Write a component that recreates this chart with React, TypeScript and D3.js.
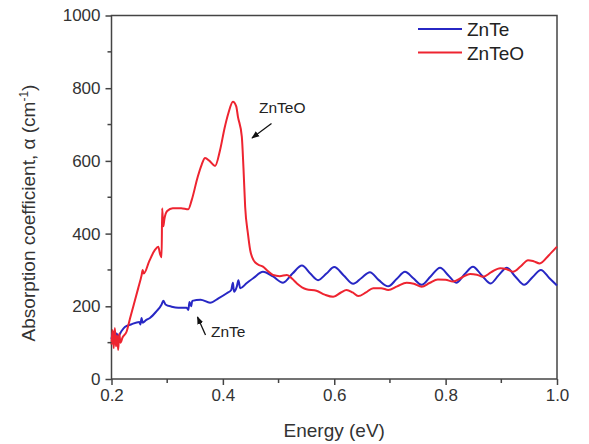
import React, { useRef, useEffect } from 'react';
import * as d3 from 'd3';

// ZnTe absorption (energy eV, alpha cm^-1)
const znteEnergy = [0.200, 0.203, 0.206, 0.209, 0.212, 0.218, 0.224, 0.235, 0.250, 0.252, 0.254, 0.256, 0.262, 0.269, 0.280, 0.290, 0.293, 0.297, 0.308, 0.320, 0.335, 0.338, 0.340, 0.343, 0.345, 0.360, 0.377, 0.392, 0.407, 0.415, 0.418, 0.420, 0.425, 0.428, 0.431, 0.443, 0.455, 0.472, 0.490, 0.508, 0.525, 0.542, 0.557, 0.571, 0.586, 0.600, 0.617, 0.634, 0.649, 0.664, 0.680, 0.697, 0.712, 0.727, 0.742, 0.757, 0.773, 0.790, 0.805, 0.819, 0.834, 0.849, 0.865, 0.881, 0.895, 0.910, 0.925, 0.941, 0.956, 0.971, 0.986, 1.000];
const znteAlpha = [110, 130, 100, 125, 118, 132, 143, 150, 157, 150, 168, 155, 162, 168, 185, 205, 215, 205, 199, 196, 196, 190, 212, 200, 215, 218, 210, 222, 236, 245, 265, 240, 254, 272, 250, 264, 278, 295, 282, 265, 290, 312, 290, 272, 290, 308, 285, 262, 278, 294, 272, 255, 275, 295, 277, 259, 282, 306, 285, 265, 288, 309, 285, 263, 285, 306, 282, 259, 280, 300, 278, 257];

// ZnTeO absorption
const zntoEnergy = [0.200, 0.202, 0.204, 0.206, 0.208, 0.210, 0.212, 0.214, 0.216, 0.220, 0.227, 0.233, 0.239, 0.248, 0.254, 0.256, 0.258, 0.268, 0.278, 0.284, 0.287, 0.290, 0.291, 0.293, 0.295, 0.300, 0.310, 0.325, 0.338, 0.344, 0.355, 0.362, 0.368, 0.376, 0.386, 0.395, 0.403, 0.410, 0.418, 0.424, 0.427, 0.434, 0.437, 0.440, 0.445, 0.449, 0.455, 0.463, 0.472, 0.480, 0.490, 0.502, 0.515, 0.525, 0.533, 0.550, 0.568, 0.583, 0.598, 0.612, 0.622, 0.633, 0.643, 0.657, 0.670, 0.684, 0.697, 0.713, 0.730, 0.743, 0.757, 0.771, 0.786, 0.800, 0.813, 0.830, 0.844, 0.856, 0.867, 0.882, 0.898, 0.910, 0.921, 0.935, 0.948, 0.958, 0.969, 0.985, 1.000];
const zntoAlpha = [95, 135, 85, 140, 90, 120, 80, 125, 100, 115, 130, 165, 199, 250, 285, 300, 290, 325, 355, 364, 345, 335, 470, 420, 440, 462, 470, 470, 467, 492, 557, 590, 608, 600, 586, 630, 690, 732, 763, 750, 722, 667, 580, 474, 400, 355, 327, 315, 309, 298, 286, 283, 286, 275, 263, 247, 243, 232, 226, 238, 245, 238, 228, 238, 250, 250, 245, 255, 265, 262, 254, 264, 274, 273, 268, 280, 289, 287, 281, 294, 305, 302, 295, 310, 327, 324, 318, 340, 364];

const xTicks = [0.2, 0.4, 0.6, 0.8, 1.0];
const xMinor = [0.3, 0.5, 0.7, 0.9];
const yTicks = [0, 200, 400, 600, 800, 1000];
const yMinor = [100, 300, 500, 700, 900];

const seriesNames = ['ZnTe', 'ZnTeO'];
const seriesColors = ['#2727c4', '#ee2430'];

function App() {
  const svgRef = useRef<SVGSVGElement>(null);

  useEffect(() => {
    const svg = d3.select(svgRef.current);
    svg.selectAll('*').remove();

    const width = 589;
    const height = 444;
    const margin = { top: 15.5, right: 32, bottom: 65, left: 111.5 };
    const font = 'Arial, "Liberation Sans", sans-serif';
    const axisColor = '#444';

    const x = d3.scaleLinear().domain([0.2, 1.0]).range([margin.left, width - margin.right]);
    const y = d3.scaleLinear().domain([0, 1000]).range([height - margin.bottom, margin.top]);

    svg.attr('width', width).attr('height', height);

    // frame
    svg.append('rect')
      .attr('x', x(0.2)).attr('y', y(1000))
      .attr('width', x(1.0) - x(0.2)).attr('height', y(0) - y(1000))
      .attr('fill', 'none').attr('stroke', axisColor).attr('stroke-width', 1.5);

    // curves
    const line = d3.line<[number, number]>()
      .x(d => x(d[0])).y(d => y(d[1]))
      .curve(d3.curveMonotoneX);

    const znte = znteEnergy.map((e, i) => [e, znteAlpha[i]] as [number, number]);
    const znto = zntoEnergy.map((e, i) => [e, zntoAlpha[i]] as [number, number]);

    svg.append('path').datum(znte)
      .attr('d', line).attr('fill', 'none')
      .attr('stroke', seriesColors[0]).attr('stroke-width', 2);
    svg.append('path').datum(znto)
      .attr('d', line).attr('fill', 'none')
      .attr('stroke', seriesColors[1]).attr('stroke-width', 2);

    // x axis
    const gx = svg.append('g').attr('transform', `translate(0,${y(0)})`);
    gx.call(d3.axisBottom(x).tickValues(xTicks).tickSize(6).tickFormat(d3.format('.1f')));
    gx.append('g').selectAll('line').data(xMinor).enter().append('line')
      .attr('x1', d => x(d)).attr('x2', d => x(d)).attr('y1', 0).attr('y2', 4);
    gx.select('.domain').remove();
    gx.selectAll('line').attr('stroke', axisColor).attr('stroke-width', 1.5);
    gx.selectAll('text').attr('font-family', font).attr('font-size', 17)
      .attr('fill', '#333').attr('dy', null).attr('y', 22);

    // y axis
    const gy = svg.append('g').attr('transform', `translate(${x(0.2)},0)`);
    gy.call(d3.axisLeft(y).tickValues(yTicks).tickSize(6).tickFormat(d3.format('d')));
    gy.append('g').selectAll('line').data(yMinor).enter().append('line')
      .attr('y1', d => y(d)).attr('y2', d => y(d)).attr('x1', 0).attr('x2', -4);
    gy.select('.domain').remove();
    gy.selectAll('line').attr('stroke', axisColor).attr('stroke-width', 1.5);
    gy.selectAll('text').attr('font-family', font).attr('font-size', 17)
      .attr('fill', '#333').attr('x', -11);

    // axis titles
    svg.append('text')
      .attr('x', (x(0.2) + x(1.0)) / 2).attr('y', 437)
      .attr('text-anchor', 'middle')
      .attr('font-family', font).attr('font-size', 19).attr('fill', '#333')
      .text('Energy (eV)');

    const yTitle = svg.append('text')
      .attr('transform', `translate(35,213) rotate(-90)`)
      .attr('text-anchor', 'middle')
      .attr('font-family', font).attr('font-size', 19).attr('fill', '#333');
    yTitle.append('tspan').text('Absorption coefficient, \u03b1 (cm');
    yTitle.append('tspan').attr('dy', -7).attr('font-size', 12).text('-1');
    yTitle.append('tspan').attr('dy', 7).text(')');

    // legend
    const legend = svg.append('g');
    seriesNames.forEach((name, i) => {
      const ly = 29 + i * 23.5;
      legend.append('line')
        .attr('x1', 418).attr('x2', 462).attr('y1', ly).attr('y2', ly)
        .attr('stroke', seriesColors[i]).attr('stroke-width', 2);
      legend.append('text')
        .attr('x', 467).attr('y', ly + 7)
        .attr('font-family', font).attr('font-size', 19).attr('fill', '#222')
        .text(name);
    });

    // annotations
    svg.append('defs').append('marker')
      .attr('id', 'ah').attr('viewBox', '0 0 10 10')
      .attr('refX', 9).attr('refY', 5)
      .attr('markerWidth', 6).attr('markerHeight', 6)
      .attr('orient', 'auto')
      .append('path').attr('d', 'M0,1 L10,5 L0,9 Z').attr('fill', '#111');

    svg.append('text')
      .attr('x', 259).attr('y', 112.5)
      .attr('font-family', font).attr('font-size', 15.5).attr('fill', '#222')
      .text('ZnTeO');
    svg.append('line')
      .attr('x1', 271.5).attr('y1', 123.5).attr('x2', 252).attr('y2', 138)
      .attr('stroke', '#111').attr('stroke-width', 1.3).attr('marker-end', 'url(#ah)');

    svg.append('text')
      .attr('x', 211).attr('y', 336.5)
      .attr('font-family', font).attr('font-size', 15.5).attr('fill', '#222')
      .text('ZnTe');
    svg.append('line')
      .attr('x1', 205.5).attr('y1', 335).attr('x2', 197.5).attr('y2', 317)
      .attr('stroke', '#111').attr('stroke-width', 1.3).attr('marker-end', 'url(#ah)');
  }, []);

  return (
    <svg ref={svgRef} style={{ position: 'absolute', left: 0, top: 0, background: '#fff' }}></svg>
  );
}

export default App;
